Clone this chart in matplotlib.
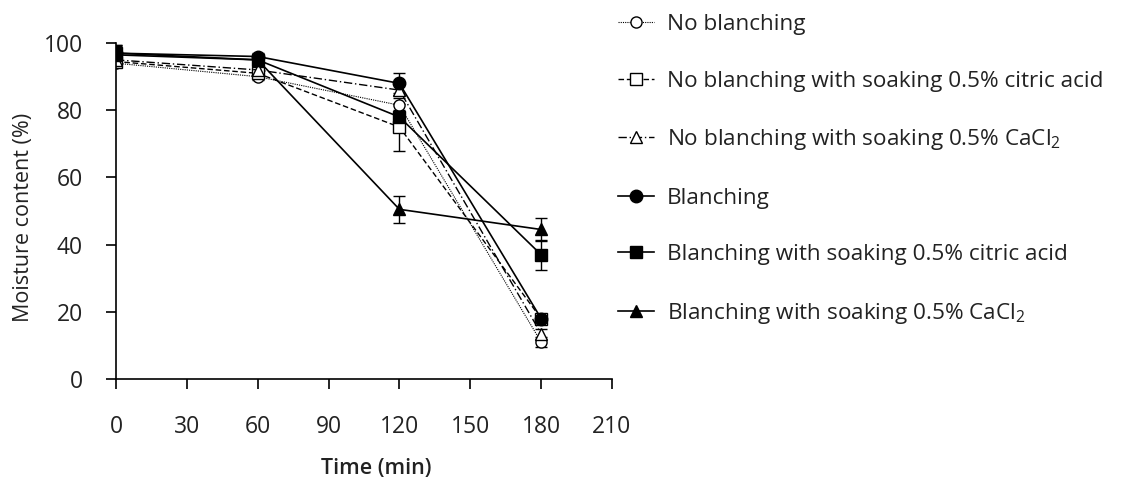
import numpy as np
import matplotlib
matplotlib.use('Agg')
import matplotlib.pyplot as plt

plt.rcParams['font.family'] = ['Open Sans', 'DejaVu Sans']
plt.rcParams['mathtext.fontset'] = 'custom'
plt.rcParams['mathtext.rm'] = 'Open Sans'
plt.rcParams['mathtext.it'] = 'Open Sans'

time_min = [0, 60, 120, 180]

labels = [
    'No blanching',
    'No blanching with soaking 0.5% citric acid',
    'No blanching with soaking 0.5% CaCl$_2$',
    'Blanching',
    'Blanching with soaking 0.5% citric acid',
    'Blanching with soaking 0.5% CaCl$_2$',
]

no_blanch = [94.0, 90.0, 81.5, 11.0]
no_blanch_citric = [94.5, 91.0, 75.0, 18.0]
no_blanch_cacl2 = [95.0, 92.0, 86.0, 13.5]
blanch = [97.0, 96.0, 88.0, 18.0]
blanch_citric = [97.0, 95.0, 78.0, 37.0]
blanch_cacl2 = [96.5, 95.0, 50.5, 44.5]

no_blanch_err = [1.0, 1.0, 2.0, 1.5]
no_blanch_citric_err = [1.0, 1.0, 7.0, 1.0]
no_blanch_cacl2_err = [1.0, 1.0, 1.5, 1.5]
blanch_err = [2.5, 1.0, 3.0, 1.0]
blanch_citric_err = [2.5, 1.0, 2.0, 4.5]
blanch_cacl2_err = [2.5, 1.0, 4.0, 3.5]

series = [no_blanch, no_blanch_citric, no_blanch_cacl2, blanch, blanch_citric, blanch_cacl2]
errors = [no_blanch_err, no_blanch_citric_err, no_blanch_cacl2_err, blanch_err, blanch_citric_err, blanch_cacl2_err]

styles = [
    dict(ls=(0, (1, 1)), lw=0.8, marker='o', mfc='white', ms=8),
    dict(ls=(0, (4, 2)), lw=1.0, marker='s', mfc='white', ms=8),
    dict(ls=(0, (6, 2, 1, 2)), lw=1.0, marker='^', mfc='white', ms=8),
    dict(ls='-', lw=1.2, marker='o', mfc='black', ms=9),
    dict(ls='-', lw=1.2, marker='s', mfc='black', ms=9),
    dict(ls='-', lw=1.2, marker='^', mfc='black', ms=9),
]

fig = plt.figure(figsize=(11.43, 4.84), dpi=100)
ax = fig.add_axes([0.1015, 0.217, 0.4339, 0.694])

handles = []
for y, e, lab, st in zip(series, errors, labels, styles):
    cont = ax.errorbar(time_min, y, yerr=e, color='black', mec='black', capsize=4,
                       elinewidth=1.0, capthick=1.0, label=lab, **st)
    handles.append(cont[0])

ax.set_xlim(0, 210)
ax.set_ylim(0, 100)
ax.set_xticks(np.arange(0, 211, 30))
ax.set_yticks(np.arange(0, 101, 20))
ax.spines['top'].set_visible(False)
ax.spines['right'].set_visible(False)
ax.spines['left'].set_linewidth(1.2)
ax.spines['bottom'].set_linewidth(1.2)
ax.tick_params(direction='out', length=7, width=1.2, labelsize=16.5, colors='black')
ax.tick_params(axis='y', pad=17)
ax.tick_params(axis='x', pad=19)
for t in ax.get_xticklabels() + ax.get_yticklabels():
    t.set_color('#222222')

ax.set_xlabel('Time (min)', fontsize=15.5, fontweight='semibold', color='#222222')
ax.xaxis.set_label_coords(0.525, -0.235)
ax.set_ylabel('Moisture content (%)', fontsize=15.5, color='#222222')
ax.yaxis.set_label_coords(-0.165, 0.48)

leg = fig.legend(handles, labels, loc='center left', bbox_to_anchor=(0.541, 0.649),
                 frameon=False, fontsize=16.2, handlelength=1.6, handletextpad=0.55,
                 labelspacing=1.58, borderpad=0, borderaxespad=0)
for t in leg.get_texts():
    t.set_color('#222222')

fig.savefig('out.png', dpi=100)
